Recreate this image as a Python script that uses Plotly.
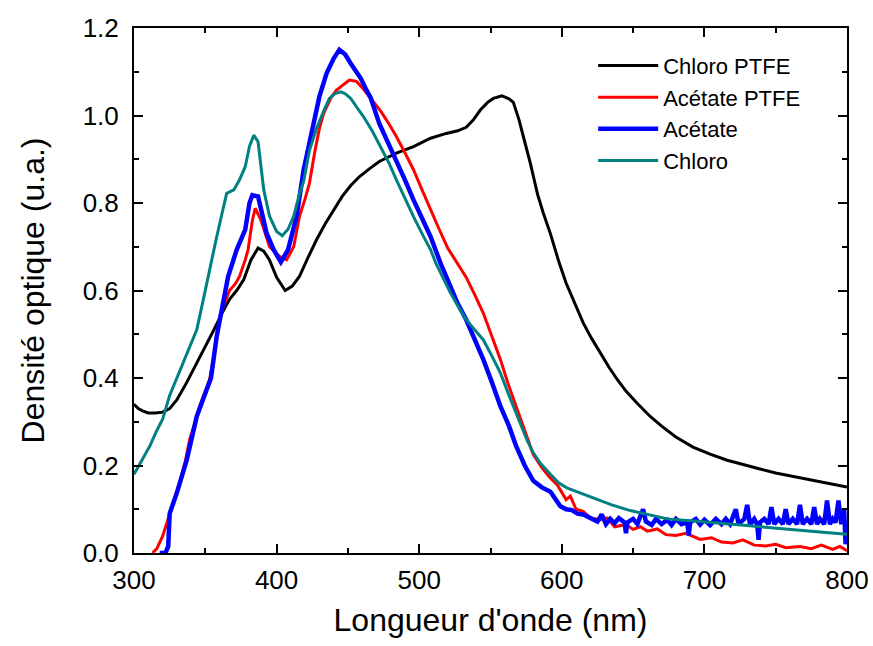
import plotly.graph_objects as go

# ---- Chloro PTFE (black) ----
chloro_ptfe_x = [300, 303, 306, 310, 315, 320, 325, 330, 337, 344, 350, 356, 362, 367, 372, 377, 382, 387, 391, 395,
                 400, 406, 411, 416, 422, 428, 434, 440, 446, 452, 458, 465, 472, 484, 496, 508, 519, 527, 533, 538,
                 543, 548, 552, 558, 563, 566, 570, 574, 578, 583, 587, 592, 598, 603, 609, 615, 621, 627, 633, 639,
                 645, 652, 662, 670, 680, 692, 704, 716, 728, 739, 750, 762, 775, 787, 800]
chloro_ptfe_y = [0.34, 0.33, 0.325, 0.32, 0.32, 0.322, 0.33, 0.35, 0.39, 0.434, 0.47, 0.51, 0.55, 0.58, 0.60, 0.625,
                 0.67, 0.697, 0.69, 0.67, 0.63, 0.60, 0.61, 0.632, 0.675, 0.716, 0.752, 0.784, 0.815, 0.84, 0.86,
                 0.878, 0.895, 0.914, 0.929, 0.948, 0.959, 0.965, 0.973, 0.99, 1.013, 1.03, 1.039, 1.045, 1.038, 1.03,
                 0.99, 0.94, 0.89, 0.82, 0.777, 0.73, 0.665, 0.617, 0.57, 0.526, 0.49, 0.457, 0.425, 0.396, 0.37,
                 0.345, 0.312, 0.29, 0.265, 0.242, 0.226, 0.212, 0.201, 0.192, 0.183, 0.175, 0.166, 0.158, 0.151]

# ---- Acétate PTFE (red) ----
acetate_ptfe_x = [313, 316, 320, 324, 328, 332, 336, 339, 343, 346, 350, 353, 357, 360, 364, 367, 371, 374, 378, 380,
                  383, 385, 389, 392, 395, 402, 407, 412, 416, 420, 423, 427, 430, 433, 438, 442, 447, 451, 456, 461,
                  467, 473, 478, 484, 490, 496, 502, 508, 514, 520, 527, 533, 539, 545, 551, 557, 562, 568, 574, 580,
                  586, 591, 597, 603, 606, 610, 615, 620, 627, 632, 637, 645, 650, 655, 660, 667, 673, 680, 687, 697,
                  705, 712, 720, 727, 735, 743, 750, 757, 767, 775, 782, 790, 795, 800]
acetate_ptfe_y = [0.0, 0.01, 0.038, 0.08, 0.122, 0.16, 0.21, 0.259, 0.30, 0.335, 0.37, 0.396, 0.47, 0.54, 0.575, 0.60,
                  0.615, 0.632, 0.67, 0.693, 0.76, 0.788, 0.761, 0.73, 0.70, 0.678, 0.67, 0.70, 0.769, 0.81, 0.845,
                  0.921, 0.97, 1.005, 1.04, 1.058, 1.072, 1.081, 1.078, 1.06, 1.035, 1.01, 0.985, 0.952, 0.915, 0.876,
                  0.83, 0.784, 0.74, 0.697, 0.66, 0.63, 0.59, 0.548, 0.495, 0.442, 0.39, 0.335, 0.28, 0.225, 0.195,
                  0.175, 0.155, 0.122, 0.13, 0.10, 0.095, 0.08, 0.076, 0.08, 0.06, 0.065, 0.054, 0.06, 0.05, 0.055,
                  0.042, 0.04, 0.045, 0.031, 0.035, 0.025, 0.023, 0.03, 0.018, 0.016, 0.02, 0.012, 0.015, 0.01, 0.018,
                  0.008, 0.015, 0.005]

# ---- Acétate (blue) ----
acetate_x = [318, 322, 324, 325, 330, 337, 344, 351, 354, 358, 362, 366, 372, 378, 381, 383, 387, 390, 393, 398,
             403, 408, 414, 419, 425, 430, 435, 440, 444, 448, 452, 455, 459, 463, 466, 472, 478, 484, 490, 496,
             502, 508, 515, 522, 527, 533, 539, 545, 551, 557, 563, 568, 574, 580, 586, 592, 599, 603, 607, 611,
             615, 620, 625, 628, 631, 634, 637, 640, 644, 645, 646, 650, 653, 657, 659, 663, 666, 670, 674, 677,
             680, 684, 688, 689, 690, 694, 697, 700, 704, 708, 712, 715, 718, 722, 724, 728, 730, 732, 735, 737,
             738, 739, 742, 745, 747, 749, 752, 755, 757, 759, 762, 765, 767, 769, 772, 775, 777, 779, 781, 784,
             786, 788, 790, 792, 794, 796, 798, 799, 800]
acetate_y = [0.0, 0.0, 0.015, 0.09, 0.137, 0.213, 0.312, 0.373, 0.40, 0.495, 0.56, 0.632, 0.693, 0.739, 0.80, 0.818,
             0.815, 0.77, 0.731, 0.693, 0.665, 0.693, 0.769, 0.876, 0.97, 1.043, 1.096, 1.13, 1.15, 1.14, 1.119, 1.104,
             1.085, 1.058, 1.04, 0.982, 0.94, 0.899, 0.853, 0.807, 0.765, 0.723, 0.662, 0.609, 0.57, 0.533, 0.49,
             0.442, 0.39, 0.335, 0.29, 0.244, 0.20, 0.165, 0.15, 0.14, 0.107, 0.10, 0.098, 0.09,
             0.088, 0.08, 0.072, 0.088, 0.066, 0.078, 0.068, 0.08, 0.07, 0.045, 0.07, 0.078, 0.066, 0.10, 0.072, 0.064,
             0.078, 0.066, 0.076, 0.064, 0.078, 0.066, 0.07, 0.04, 0.07, 0.078, 0.065, 0.076, 0.064, 0.078, 0.066,
             0.078, 0.066, 0.10, 0.066, 0.078, 0.11, 0.065, 0.078, 0.066, 0.03, 0.07, 0.078, 0.066, 0.105, 0.066,
             0.078, 0.066, 0.10, 0.066, 0.078, 0.066, 0.11, 0.066, 0.078, 0.066, 0.105, 0.066, 0.078, 0.066, 0.12,
             0.066, 0.078, 0.07, 0.12, 0.066, 0.10, 0.02, 0.06]

# ---- Chloro (teal) ----
chloro_x = [300, 305, 311, 316, 320, 325, 330, 335, 340, 344, 348, 351, 355, 358, 362, 365, 370, 374, 378, 381,
            384, 387, 391, 395, 400, 404, 408, 412, 416, 419, 423, 428, 433, 437, 441, 445, 448, 452, 456, 461,
            467, 473, 479, 484, 490, 496, 502, 508, 512, 517, 522, 528, 533, 539, 545, 551, 557, 563, 568, 572,
            576, 580, 585, 592, 598, 604, 612, 622, 635, 648, 661, 674, 697, 720, 744, 767, 785, 800]
chloro_y = [0.18, 0.21, 0.244, 0.28, 0.305, 0.36, 0.40, 0.442, 0.48, 0.51, 0.57, 0.617, 0.68, 0.723, 0.78, 0.822,
            0.83, 0.853, 0.883, 0.93, 0.955, 0.94, 0.83, 0.77, 0.735, 0.725, 0.74, 0.77, 0.82, 0.85, 0.92, 0.97,
            1.01, 1.039, 1.05, 1.054, 1.05, 1.039, 1.02, 0.997, 0.965, 0.929, 0.89, 0.853, 0.81, 0.769, 0.73, 0.693,
            0.66, 0.628, 0.594, 0.56, 0.533, 0.51, 0.487, 0.45, 0.411, 0.36, 0.32, 0.29, 0.255, 0.229, 0.205, 0.18,
            0.16, 0.148, 0.138, 0.125, 0.11, 0.097, 0.088, 0.078, 0.072, 0.065, 0.058, 0.052, 0.047, 0.043]

x_ticks = [300, 400, 500, 600, 700, 800]
y_ticks = [0.0, 0.2, 0.4, 0.6, 0.8, 1.0, 1.2]

FONT = "Liberation Sans, Arial, sans-serif"

fig = go.Figure()
fig.add_trace(go.Scatter(x=chloro_ptfe_x, y=chloro_ptfe_y, mode="lines", name="Chloro PTFE",
                         line=dict(color="#000000", width=3)))
fig.add_trace(go.Scatter(x=acetate_ptfe_x, y=acetate_ptfe_y, mode="lines", name="Acétate PTFE",
                         line=dict(color="#FF0000", width=3)))
fig.add_trace(go.Scatter(x=acetate_x, y=acetate_y, mode="lines", name="Acétate",
                         line=dict(color="#0000FF", width=4.5)))
fig.add_trace(go.Scatter(x=chloro_x, y=chloro_y, mode="lines", name="Chloro",
                         line=dict(color="#008080", width=3)))

axis_common = dict(
    showline=True, linewidth=2, linecolor="black", mirror="allticks",
    ticks="inside", ticklen=9, tickwidth=2, tickcolor="black",
    showgrid=False, zeroline=False, automargin=False,
    tickfont=dict(family=FONT, size=26, color="black"),
)

fig.update_layout(
    width=873, height=646,
    margin=dict(l=134, r=26, t=28, b=93),
    paper_bgcolor="white", plot_bgcolor="white",
    font=dict(family=FONT, color="black"),
    xaxis=dict(range=[300, 800], tickvals=x_ticks, ticktext=[str(v) for v in x_ticks],
               minor=dict(ticks="inside", ticklen=5, tickwidth=2, dtick=50, tickcolor="black", tick0=300),
               title=dict(text="Longueur d'onde (nm)", font=dict(family=FONT, size=32), standoff=14),
               ticklabelstandoff=3, **axis_common),
    yaxis=dict(range=[0, 1.2], tickvals=y_ticks, ticktext=[f"{v:.1f}" for v in y_ticks],
               minor=dict(ticks="inside", ticklen=5, tickwidth=2, dtick=0.1, tickcolor="black", tick0=0),
               title=dict(text="Densité optique (u.a.)", font=dict(family=FONT, size=32), standoff=28),
               ticklabelstandoff=8, **axis_common),
    legend=dict(x=0.644, y=0.968, xanchor="left", yanchor="top", bgcolor="rgba(0,0,0,0)",
                font=dict(family=FONT, size=22, color="black"), itemwidth=60, tracegroupgap=0),
    showlegend=True,
)

fig.write_html("out.html", config={"displayModeBar": False},
               post_script="document.body.style.margin='0px';")
